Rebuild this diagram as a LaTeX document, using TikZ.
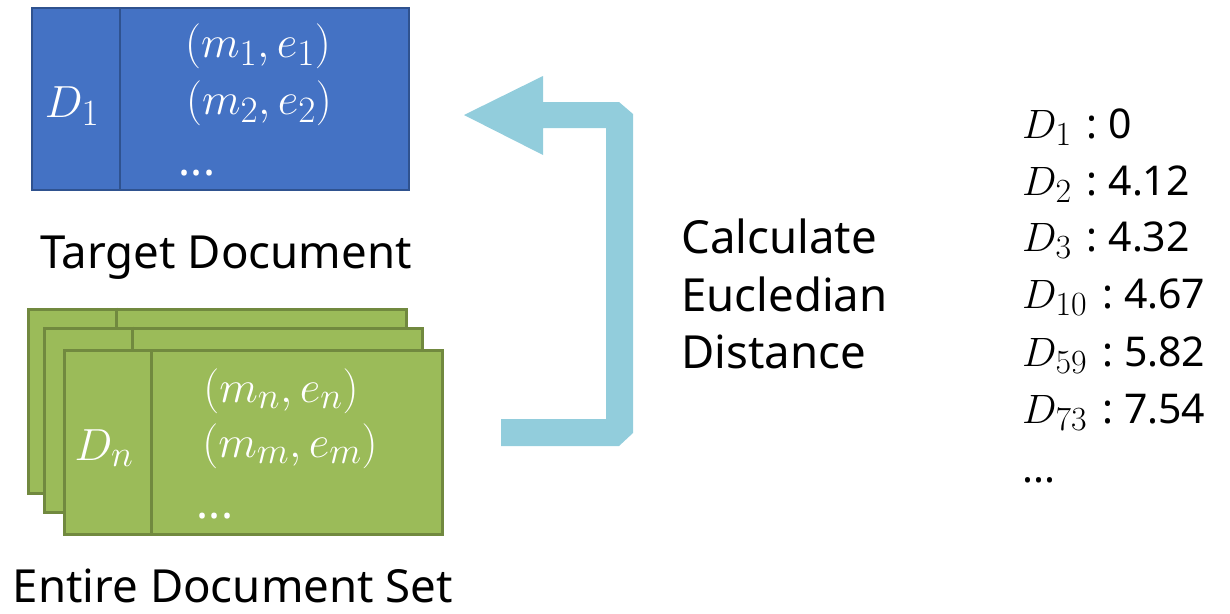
\documentclass[tikz,border=0pt]{standalone}
\usepackage{fix-cm}
\usepackage{fontspec}
\setmainfont{Noto Sans}
\definecolor{blueF}{HTML}{4472C4}
\definecolor{blueD}{HTML}{2F528F}
\definecolor{greenF}{HTML}{9BBB59}
\definecolor{greenD}{HTML}{71893F}
\definecolor{arrowC}{HTML}{92CDDC}
\tikzset{
  bluebox/.style={draw=blueD, fill=blueF, line width=2pt, minimum width=377pt, minimum height=182pt, inner sep=0pt},
  greenbox/.style={draw=greenD, fill=greenF, line width=3pt, minimum width=378pt, minimum height=184pt, inner sep=0pt},
  intext/.style={text=white, inner sep=0pt, anchor=base, font=\fontsize{45}{54}\selectfont},
  lbl/.style={inner sep=0pt, anchor=base, font=\fontsize{45.6}{57}\selectfont, text=black},
  lst/.style={inner sep=0pt, anchor=base west, font=\fontsize{41}{50}\selectfont, text=black}
}
\newcommand{\ssb}[1]{_{\scalebox{1.18}{$\scriptstyle #1$}}}
\newcommand{\cl}{\hspace{15pt}:\hspace{11pt}}
\begin{document}
\begin{tikzpicture}[x=1pt,y=-1pt]
\useasboundingbox (0,0) rectangle (1230,613);
% target document
\node[bluebox] (tb) at (220.5,99) {};
\draw[blueD, line width=2pt] ([xshift=89pt]tb.north west) -- ([xshift=89pt]tb.south west);
\node[intext] (tD) at (72,117) {$D\ssb{1}$};
\node[intext] (tm1) at (258,57) {$(m\ssb{1},e\ssb{1})$};
\node[intext] (tm2) at (259,114) {$(m\ssb{2},e\ssb{2})$};
\node[intext] (tdots) at (197,175) {...};
\node[lbl] (tlab) at (226,268) {Target Document};
% document set
\node[greenbox] (g1) at (217.5,401) {};
\draw[greenD, line width=3pt] ([xshift=89pt]g1.north west) -- ([xshift=89pt]g1.south west);
\node[greenbox] (g2) at (233.5,420) {};
\draw[greenD, line width=3pt] ([xshift=89pt]g2.north west) -- ([xshift=89pt]g2.south west);
\node[greenbox] (g3) at (253,442.5) {};
\draw[greenD, line width=3pt] ([xshift=89pt]g3.north west) -- ([xshift=89pt]g3.south west);
\node[intext] (gD) at (104,460) {$D\ssb{n}$};
\node[intext] (gm1) at (281,402) {$(m\ssb{n},e\ssb{n})$};
\node[intext] (gm2) at (290,457) {$(m\ssb{m},e\ssb{m})$};
\node[intext] (gdots) at (215,518) {...};
\node[lbl, text depth=0pt] (glab) at (233,602) {Entire Document Set};
% arrow
\fill[arrowC] (464,115) -- (543,76) -- (543,102) -- (619,102) -- (633,114) -- (633,433) -- (619,446) -- (501,446) -- (501,419) -- (606,419) -- (606,128) -- (543,128) -- (543,155) -- cycle;
% label
\node[lbl, anchor=base west] (calc1) at (681,253) {Calculate};
\node[lbl, anchor=base west] (calc2) at (681,311) {Eucledian};
\node[lbl, anchor=base west] (calc3) at (681,368) {Distance};
% list
\node[lst] (l1) at (1022,138) {$D\ssb{1}$\cl 0};
\node[lst] (l2) at (1022,195) {$D\ssb{2}$\cl 4.12};
\node[lst] (l3) at (1022,251) {$D\ssb{3}$\cl 4.32};
\node[lst] (l4) at (1022,308) {$D\ssb{10}$\cl 4.67};
\node[lst] (l5) at (1022,366) {$D\ssb{59}$\cl 5.82};
\node[lst] (l6) at (1022,423) {$D\ssb{73}$\cl 7.54};
\node[lst] (l7) at (1022,482) {...};
\end{tikzpicture}
\end{document}
